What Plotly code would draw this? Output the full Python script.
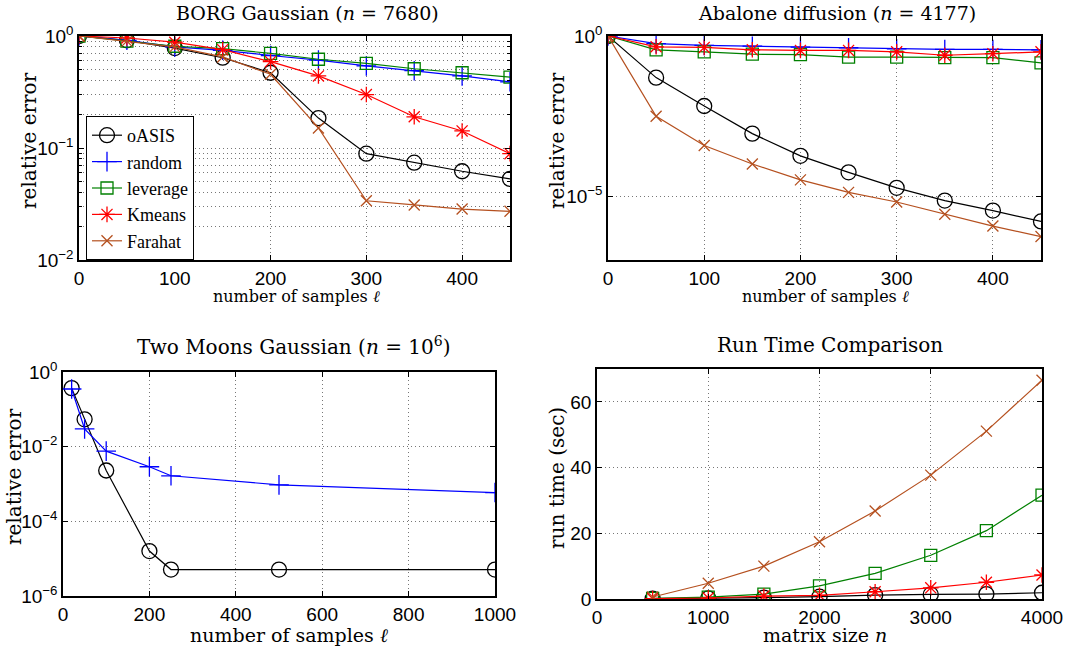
import plotly.graph_objects as go

W, H = 1087, 647

# ---- data -------------------------------------------------------------
borg_x = [0, 50, 100, 150, 200, 250, 300, 350, 400, 450]
borg_oasis = [1.0, 0.915, 0.78, 0.64, 0.47, 0.185, 0.089, 0.074, 0.062, 0.053]
borg_random = [1.0, 0.915, 0.80, 0.745, 0.67, 0.61, 0.54, 0.49, 0.44, 0.39]
borg_leverage = [1.0, 0.90, 0.81, 0.77, 0.70, 0.62, 0.57, 0.51, 0.47, 0.43]
borg_kmeans = [1.0, 0.96, 0.88, 0.755, 0.59, 0.44, 0.30, 0.19, 0.142, 0.089]
borg_farahat = [1.0, 0.90, 0.80, 0.65, 0.455, 0.151, 0.0338, 0.031, 0.0285, 0.0272]

abal_x = [0, 50, 100, 150, 200, 250, 300, 350, 400, 450]
abal_oasis = [1.0, 5.0e-2, 6.5e-3, 8.9e-4, 1.8e-4, 5.5e-5, 1.8e-5, 7.2e-6, 3.5e-6, 1.6e-6]
abal_random = [1.0, 0.575, 0.51, 0.48, 0.45, 0.43, 0.40, 0.38, 0.38, 0.37]
abal_leverage = [1.0, 0.37, 0.32, 0.27, 0.26, 0.22, 0.22, 0.21, 0.21, 0.145]
abal_kmeans = [1.0, 0.46, 0.44, 0.37, 0.355, 0.355, 0.32, 0.25, 0.28, 0.32]
abal_farahat = [1.0, 3.1e-3, 3.8e-4, 1.0e-4, 3.2e-5, 1.3e-5, 6.5e-6, 2.7e-6, 1.15e-6, 5.4e-7]

moon_x = [20, 50, 100, 200, 250, 500, 1000]
moon_oasis = [0.37, 0.054, 0.0023, 1.6e-5, 5.1e-6, 5.1e-6, 5.1e-6]
moon_random = [0.35, 0.030, 0.0076, 0.0029, 0.00166, 0.00095, 0.00059]

time_x = [500, 1000, 1500, 2000, 2500, 3000, 3500, 4000]
time_oasis = [0.1, 0.2, 0.4, 0.7, 1.2, 1.4, 1.5, 1.9]
time_leverage = [0.2, 0.6, 1.5, 4.0, 7.8, 13.3, 20.8, 31.6]
time_kmeans = [0.1, 0.3, 0.9, 1.1, 2.2, 3.4, 5.1, 7.3]
time_farahat = [0.6, 4.8, 10.0, 17.4, 26.8, 37.7, 51.1, 66.6]

# ---- styles -----------------------------------------------------------
SERIF = "DejaVu Serif"
SANS = "Liberation Sans"
BROWN = "#b5501f"
GRID = "#777777"
DOT = "1px,3px"
STYLE = {
    "oASIS": dict(color="black", symbol="circle-open", size=15),
    "random": dict(color="#0000ff", symbol="cross-thin-open", size=14),
    "leverage": dict(color="#008000", symbol="square-open", size=12),
    "Kmeans": dict(color="#ff0000", symbol="asterisk-open", size=13),
    "Farahat": dict(color=BROWN, symbol="x-thin-open", size=11),
}


def px_x(p):
    return p / W


def px_y(p):
    return 1 - p / H


fig = go.Figure()


def add(name, x, y, ax, legend=False):
    s = STYLE[name]
    fig.add_trace(go.Scatter(
        x=x, y=y, mode="lines+markers", name=name,
        xaxis="x" + ax, yaxis="y" + ax, showlegend=legend,
        line=dict(color=s["color"], width=1.2),
        marker=dict(symbol=s["symbol"], size=s["size"], color=s["color"],
                    line=dict(color=s["color"], width=1.3)),
    ))


for nm, yy in [("oASIS", borg_oasis), ("random", borg_random), ("leverage", borg_leverage),
               ("Kmeans", borg_kmeans), ("Farahat", borg_farahat)]:
    add(nm, borg_x, yy, "", legend=True)
for nm, yy in [("oASIS", abal_oasis), ("random", abal_random), ("leverage", abal_leverage),
               ("Kmeans", abal_kmeans), ("Farahat", abal_farahat)]:
    add(nm, abal_x, yy, "2")
for nm, yy in [("oASIS", moon_oasis), ("random", moon_random)]:
    add(nm, moon_x, yy, "3")
for nm, yy in [("oASIS", time_oasis), ("leverage", time_leverage),
               ("Kmeans", time_kmeans), ("Farahat", time_farahat)]:
    add(nm, time_x, yy, "4")

axis_common = dict(
    showline=True, linecolor="black", linewidth=1.5, mirror="ticks",
    ticks="inside", ticklen=5, tickcolor="black", automargin=False,
    showgrid=True, gridcolor=GRID, griddash=DOT, gridwidth=1,
    zeroline=False, tickfont=dict(family=SANS, size=19, color="black"),
)


def sup(k):
    return "10<sup>%s</sup>" % (str(k) if k >= 0 else "\u2212" + str(-k))


minor_borg = [m * 10 ** e for e in (-2, -1) for m in range(2, 10)]

fig.update_layout(
    width=W, height=H, margin=dict(l=0, r=0, t=0, b=0, autoexpand=False),
    plot_bgcolor="white", paper_bgcolor="white",
    xaxis=dict(axis_common, domain=[px_x(79), px_x(510)], range=[0, 450],
               tickvals=[0, 100, 200, 300, 400], anchor="y"),
    yaxis=dict(axis_common, domain=[px_y(260), px_y(36)], type="log", range=[-2, 0],
               tickvals=[1, 0.1, 0.01], ticktext=[sup(0), sup(-1), sup(-2)], anchor="x",
               minor=dict(tickvals=minor_borg, showgrid=True, gridcolor=GRID,
                          griddash=DOT, gridwidth=1, ticks="inside", ticklen=3,
                          tickcolor="black")),
    xaxis2=dict(axis_common, domain=[px_x(608), px_x(1041)], range=[0, 450],
                tickvals=[0, 100, 200, 300, 400], anchor="y2"),
    yaxis2=dict(axis_common, domain=[px_y(260), px_y(36)], type="log", range=[-7, 0],
                tickvals=[1, 1e-5], ticktext=[sup(0), sup(-5)], anchor="x2"),
    xaxis3=dict(axis_common, domain=[px_x(63), px_x(495)], range=[0, 1000],
                tickvals=[0, 200, 400, 600, 800, 1000], anchor="y3"),
    yaxis3=dict(axis_common, domain=[px_y(596), px_y(372)], type="log", range=[-6, 0],
                tickvals=[1, 1e-2, 1e-4, 1e-6],
                ticktext=[sup(0), sup(-2), sup(-4), sup(-6)], anchor="x3"),
    xaxis4=dict(axis_common, domain=[px_x(597), px_x(1042)], range=[0, 4000],
                tickvals=[0, 1000, 2000, 3000, 4000], anchor="y4"),
    yaxis4=dict(axis_common, domain=[px_y(599), px_y(369)], range=[0, 70],
                tickvals=[0, 20, 40, 60], anchor="x4"),
    legend=dict(x=px_x(86), y=px_y(116), xanchor="left", yanchor="top",
                bgcolor="white", bordercolor="black", borderwidth=1,
                font=dict(family="Liberation Serif", size=18, color="black"),
                itemwidth=30, tracegroupgap=0),
    showlegend=True,
)

texts = [
    # titles
    ("BORG Gaussian (<i>n</i> = 7680)", 307, 13, 0, 19),
    ("Abalone diffusion (<i>n</i> = 4177)", 837, 13, 0, 19),
    ("Two Moons Gaussian (<i>n</i> = 10<sup>6</sup>)", 293, 346, 0, 20),
    ("Run Time Comparison", 830, 345, 0, 20),
    # x titles
    ("number of samples <i>\u2113</i>", 296, 297, 0, 16),
    ("number of samples <i>\u2113</i>", 825, 297, 0, 16),
    ("number of samples <i>\u2113</i>", 289, 635, 0, 19),
    ("matrix size <i>n</i>", 825, 635, 0, 19),
    # y titles
    ("relative error", 29, 141, -90, 20),
    ("relative error", 557, 141, -90, 20),
    ("relative error", 14, 477, -90, 20),
    ("run time (sec)", 557, 478, -90, 20),
]
for t, x, y, ang, fs in texts:
    fig.add_annotation(text=t, x=px_x(x), y=px_y(y), xref="paper", yref="paper",
                       showarrow=False, textangle=ang, xanchor="center", yanchor="middle",
                       font=dict(family=SERIF, size=fs, color="black"))

# page body has a default 8px margin; drop it so the figure fills the window
fig.write_html("out.html", config={"displayModeBar": False},
               post_script="document.body.style.margin='0';")
